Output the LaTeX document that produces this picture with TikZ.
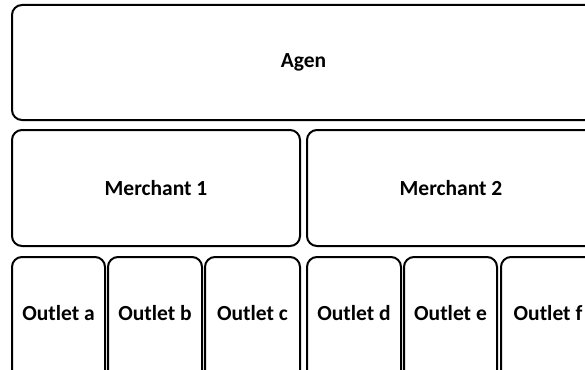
\documentclass[tikz,border=0pt]{standalone}
\usepackage{fontspec}
\setmainfont{Carlito}
\usepackage{tikz}
\usetikzlibrary{positioning}

\tikzset{
	unitbox/.style={draw, line width=2pt, rounded corners=10pt, inner sep=0pt,
		font=\fontsize{21.5}{25}\selectfont\bfseries},
	unitlabel/.style={font=\fontsize{21.5}{25}\selectfont\bfseries}
}

\begin{document}
\begin{tikzpicture}[x=1pt, y=-1pt]
	\useasboundingbox (0,0) rectangle (585,369);
	\clip (0,0) rectangle (585,369);
	% top level
	\node[unitbox, minimum width=583pt, minimum height=115pt] (agen) at (303.5,62.5) {Agen};
	% merchants
	\node[unitbox, minimum width=288pt, minimum height=116pt] (merchA) at (156,188) {Merchant 1};
	\node[unitbox, minimum width=288pt, minimum height=116pt] (merchB) at (451,188) {Merchant 2};
	% outlets (cut off at the bottom)
	\node[unitbox, minimum width=93pt, minimum height=124pt] (outA) at (58.5,319) {};
	\node[unitbox, minimum width=94pt, minimum height=124pt] (outB) at (155,319) {};
	\node[unitbox, minimum width=95pt, minimum height=124pt] (outC) at (252.5,319) {};
	\node[unitbox, minimum width=94pt, minimum height=124pt] (outD) at (354,319) {};
	\node[unitbox, minimum width=93pt, minimum height=124pt] (outE) at (450.5,319) {};
	\node[unitbox, minimum width=94pt, minimum height=124pt] (outF) at (548,319) {};
	\foreach \o/\t in {outA/a, outB/b, outC/c, outD/d, outE/e, outF/f}
		\node[unitlabel] (lbl\t) at ([yshift=6pt]\o.center) {Outlet \t};
\end{tikzpicture}
\end{document}
